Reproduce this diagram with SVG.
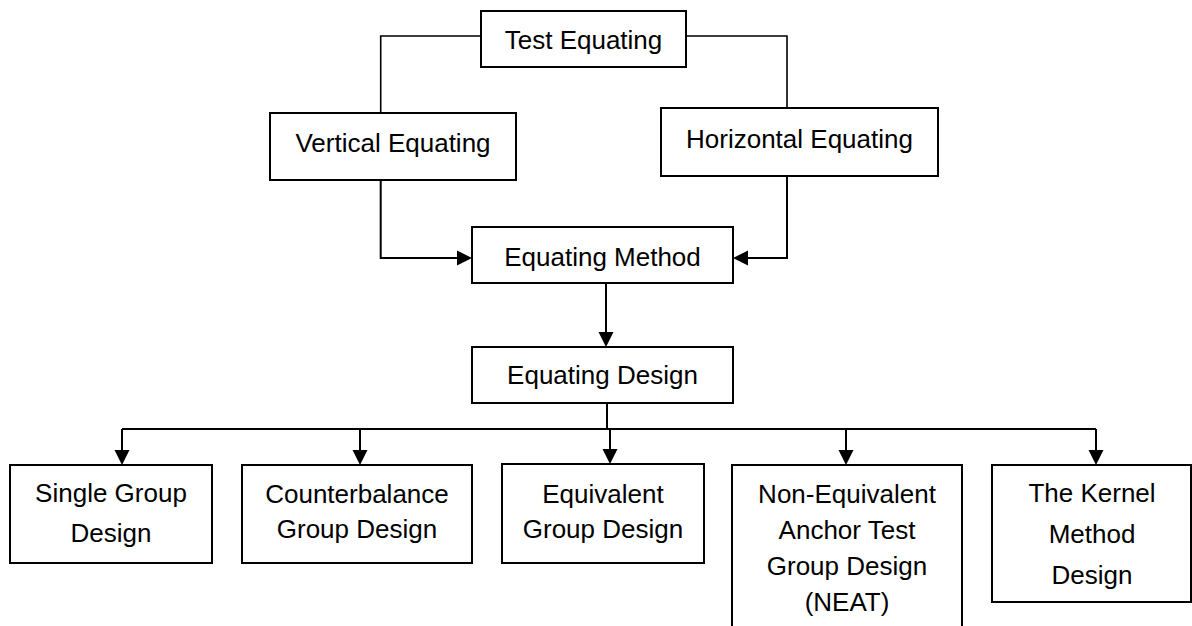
<svg xmlns="http://www.w3.org/2000/svg" width="1192" height="626" viewBox="0 0 1192 626">
<style>
.box{fill:#fff;stroke:#000;stroke-width:2}
.t{font-family:"Liberation Sans",Arial,sans-serif;font-size:26px;fill:#000;text-anchor:middle}
.c{fill:none;stroke:#000;stroke-width:2}
.c1{fill:none;stroke:#000;stroke-width:1.6}
</style>
<defs>
<marker id="ah" markerUnits="userSpaceOnUse" markerWidth="16" markerHeight="16" refX="0" refY="7.5" orient="auto" overflow="visible">
<path d="M0,0 L15,7.5 L0,15 z" fill="#000"/>
</marker>
</defs>
<rect width="1192" height="626" fill="#fff"/>
<g id="connectors">
<path class="c1" d="M481,36 H380.7 V113"/>
<path class="c1" d="M686,36 H787 V108"/>
<path class="c" d="M380.7,180 V258 H457" marker-end="url(#ah)"/>
<path class="c" d="M787,176 V258 H748" marker-end="url(#ah)"/>
<path class="c" d="M606,283 V332" marker-end="url(#ah)"/>
<path class="c" d="M607,403 V429"/>
<path class="c" d="M122,429 H1096"/>
<path class="c" d="M122,429 V450" marker-end="url(#ah)"/>
<path class="c" d="M360,429 V450" marker-end="url(#ah)"/>
<path class="c" d="M610,429 V449" marker-end="url(#ah)"/>
<path class="c" d="M846,429 V450" marker-end="url(#ah)"/>
<path class="c" d="M1096,429 V450" marker-end="url(#ah)"/>
</g>
<g id="test-equating">
<rect class="box" x="481" y="11" width="205" height="56"/>
<text class="t" x="583.5" y="49">Test Equating</text>
</g>
<g id="vertical-equating">
<rect class="box" x="270" y="113" width="246" height="67"/>
<text class="t" x="393" y="152">Vertical Equating</text>
</g>
<g id="horizontal-equating">
<rect class="box" x="661" y="108" width="277" height="68"/>
<text class="t" x="799.5" y="148">Horizontal Equating</text>
</g>
<g id="equating-method">
<rect class="box" x="472" y="227" width="261" height="56"/>
<text class="t" x="602.5" y="266">Equating Method</text>
</g>
<g id="equating-design">
<rect class="box" x="472" y="347" width="261" height="56"/>
<text class="t" x="602.5" y="384">Equating Design</text>
</g>
<g id="single-group">
<rect class="box" x="10" y="465" width="202" height="98"/>
<text class="t" x="111" y="502">Single Group</text>
<text class="t" x="111" y="542">Design</text>
</g>
<g id="counterbalance">
<rect class="box" x="242" y="465" width="230" height="98"/>
<text class="t" x="357" y="503">Counterbalance</text>
<text class="t" x="357" y="538">Group Design</text>
</g>
<g id="equivalent">
<rect class="box" x="502" y="464" width="202" height="99"/>
<text class="t" x="603" y="503">Equivalent</text>
<text class="t" x="603" y="538">Group Design</text>
</g>
<g id="neat">
<rect class="box" x="732" y="465" width="230" height="180"/>
<text class="t" x="847" y="503">Non-Equivalent</text>
<text class="t" x="847" y="539">Anchor Test</text>
<text class="t" x="847" y="575">Group Design</text>
<text class="t" x="847" y="611">(NEAT)</text>
</g>
<g id="kernel">
<rect class="box" x="992" y="465" width="199" height="137"/>
<text class="t" x="1092" y="502">The Kernel</text>
<text class="t" x="1092" y="543">Method</text>
<text class="t" x="1092" y="584">Design</text>
</g>
</svg>
